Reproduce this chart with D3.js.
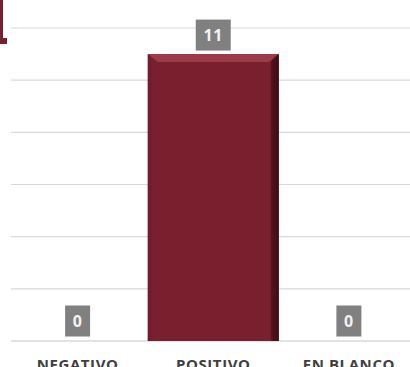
<!DOCTYPE html>
<html>
<head>
<meta charset="utf-8">
<script src="https://cdn.jsdelivr.net/npm/d3@7"></script>
<style>
  body { margin: 0; background: #fff; }
  svg { display: block; }
</style>
</head>
<body>
<div id="chart"></div>
<script>

var categories = ["NEGATIVO", "POSITIVO", "EN BLANCO"]

var values = [0, 11, 0]

var yTicks = [0, 2, 4, 6, 8, 10, 12]

var width = 410
var height = 367

var svg = d3.select("#chart")
	.append("svg")
	.attr("width", width)
	.attr("height", height)

var defs = svg.append("defs")

var grad = defs.append("linearGradient")
	.attr("id", "barFill")
	.attr("x1", 0).attr("x2", 1).attr("y1", 0).attr("y2", 0)

grad.append("stop").attr("offset", "0%").attr("stop-color", "#6e1a27")
grad.append("stop").attr("offset", "4%").attr("stop-color", "#7a1f2e")
grad.append("stop").attr("offset", "94%").attr("stop-color", "#7a1f2e")
grad.append("stop").attr("offset", "100%").attr("stop-color", "#3e0c14")

var x = d3.scaleBand()
	.domain(categories)
	.range([10, 416.5])
	.paddingInner(0.033)
	.paddingOuter(0.015)

var y = d3.scaleLinear()
	.domain([0, 12])
	.range([341, 28])

// gridlines
svg.append("g")
	.selectAll("line")
	.data(yTicks)
	.join("line")
	.attr("x1", 11)
	.attr("x2", width)
	.attr("y1", d => y(d))
	.attr("y2", d => y(d))
	.attr("stroke", "#d9d9d9")
	.attr("stroke-width", d => d == 0 ? 1.5 : 1.2)

// cropped title pieces
svg.append("path")
	.attr("d", "M0,0 H3 V38 H7 V44 H0 Z")
	.attr("fill", "#7a1f2e")

svg.append("text")
	.attr("x", 209)
	.attr("y", -6.5)
	.attr("text-anchor", "middle")
	.attr("font-family", "Open Sans, sans-serif")
	.attr("font-size", 26)
	.attr("font-weight", "bold")
	.attr("fill", "#404040")
	.text("g")

// bars
var bars = svg.append("g")
	.selectAll("g")
	.data(values.map((v, i) => ({ name: categories[i], value: v })).filter(d => d.value > 0))
	.join("g")

bars.append("rect")
	.attr("x", d => x(d.name))
	.attr("y", d => y(d.value))
	.attr("width", x.bandwidth())
	.attr("height", d => y(0) - y(d.value))
	.attr("fill", "url(#barFill)")

// top bevel highlight
bars.append("path")
	.attr("d", d => {
		var x0 = x(d.name), x1 = x0 + x.bandwidth(), t = y(d.value)
		return `M${x0},${t} H${x1} L${x1 - 10},${t + 8} H${x0 + 10} Z`
	})
	.attr("fill", "#a3404f")
	.attr("opacity", 0.85)

// right dark edge
bars.append("path")
	.attr("d", d => {
		var x0 = x(d.name), x1 = x0 + x.bandwidth(), t = y(d.value)
		return `M${x1},${t} L${x1 - 8},${t + 8} V${y(0)} H${x1} Z`
	})
	.attr("fill", "#3e0c14")
	.attr("opacity", 0.6)

// value labels
var labels = svg.append("g")
	.selectAll("g")
	.data(values.map((v, i) => ({ name: categories[i], value: v })))
	.join("g")
	.attr("transform", d => `translate(${x(d.name) + x.bandwidth() / 2},${d.value > 0 ? y(d.value) - 19 : y(0) - 20})`)

labels.append("rect")
	.attr("x", d => d.value > 9 ? -17.5 : -12.5)
	.attr("y", -15.5)
	.attr("width", d => d.value > 9 ? 35 : 25)
	.attr("height", 31)
	.attr("fill", "#808080")

labels.append("text")
	.attr("text-anchor", "middle")
	.attr("dy", "0.36em")
	.attr("font-family", "Open Sans, sans-serif")
	.attr("font-size", 16)
	.attr("font-weight", "bold")
	.attr("letter-spacing", 0.5)
	.attr("fill", "#f2f2f2")
	.text(d => d.value)

// category labels
svg.append("g")
	.selectAll("text")
	.data(categories)
	.join("text")
	.attr("x", d => x(d) + x.bandwidth() / 2)
	.attr("y", 370)
	.attr("text-anchor", "middle")
	.attr("font-family", "Open Sans, sans-serif")
	.attr("font-size", 15)
	.attr("font-weight", "bold")
	.attr("letter-spacing", 0.6)
	.attr("fill", "#404040")
	.text(d => d)

</script>
</body>
</html>
